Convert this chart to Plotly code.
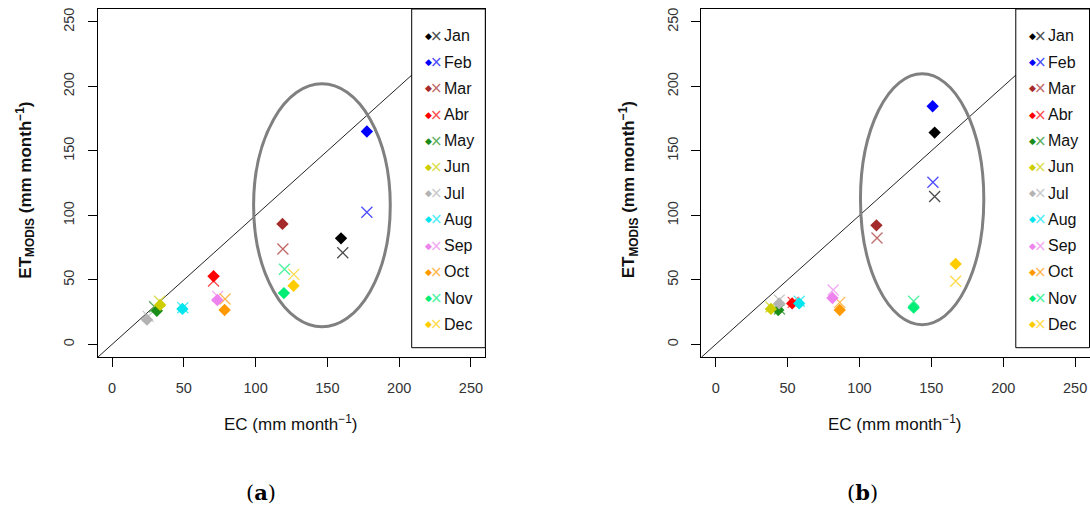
import plotly.graph_objects as go

# ---------------- data ----------------
months = ["Jan", "Feb", "Mar", "Abr", "May", "Jun", "Jul", "Aug", "Sep", "Oct", "Nov", "Dec"]
colors = ["#000000", "#0000FF", "#A52A2A", "#FF0000", "#1A8C1A", "#CDCD00",
          "#B3B3B3", "#00E5EE", "#EE82EE", "#FF9900", "#00EE76", "#FFCC00"]

# panel (a): diamonds
ec_a_d = [159.5, 177.5, 118.7, 70.7, 31.2, 33.5, 24.3, 49.0, 73.3, 78.4, 119.7, 126.4]
et_a_d = [82.2, 165.0, 93.4, 52.8, 26.1, 30.6, 19.2, 27.5, 34.4, 26.7, 39.8, 45.5]
# panel (a): crosses
ec_a_x = [160.7, 177.5, 119.0, 70.7, 29.6, 33.1, 25.2, 49.3, 73.6, 78.7, 120.1, 126.6]
et_a_x = [71.1, 102.4, 74.0, 49.1, 29.2, 33.4, 21.7, 28.4, 37.2, 35.2, 58.2, 54.3]

# panel (b): diamonds
ec_b_d = [152.3, 150.9, 111.8, 53.2, 43.5, 38.4, 44.2, 58.1, 81.2, 86.3, 137.7, 166.9]
et_b_d = [164.2, 184.6, 92.3, 31.8, 26.7, 27.5, 31.8, 31.8, 36.0, 26.7, 28.5, 62.4]
# panel (b): crosses
ec_b_x = [152.3, 151.1, 112.2, 53.9, 44.4, 38.4, 44.2, 58.1, 81.7, 86.3, 137.7, 166.9]
et_b_x = [114.6, 125.7, 82.5, 32.6, 27.5, 29.0, 34.4, 33.4, 42.2, 32.6, 33.4, 48.9]

# ellipses [x0, x1, y0, y1]
ellipse_a = [98.6, 193.8, 13.7, 202.0]
ellipse_b = [100.7, 186.5, 15.3, 209.8]

tick_vals = [0, 50, 100, 150, 200, 250]
axis_range = [-10, 260]
captions = ["a", "b"]

# ---------------- figure ----------------
W, H = 1090, 511
fig = go.Figure()

panels = [
    dict(xa="x", ya="y", d=(ec_a_d, et_a_d), c=(ec_a_x, et_a_x), ell=ellipse_a),
    dict(xa="x2", ya="y2", d=(ec_b_d, et_b_d), c=(ec_b_x, et_b_x), ell=ellipse_b),
]

def lighten(hexc, f=0.3):
    h = hexc.lstrip("#")
    r, g, b = int(h[0:2], 16), int(h[2:4], 16), int(h[4:6], 16)
    r = int(r + (255 - r) * f); g = int(g + (255 - g) * f); b = int(b + (255 - b) * f)
    return "#%02X%02X%02X" % (r, g, b)

x_colors = [lighten(c) for c in colors]

for p in panels:
    # 1:1 line
    fig.add_trace(go.Scatter(x=axis_range, y=axis_range, mode="lines",
                             line=dict(color="#222222", width=1),
                             xaxis=p["xa"], yaxis=p["ya"], showlegend=False, hoverinfo="skip"))
    # crosses
    fig.add_trace(go.Scatter(x=p["c"][0], y=p["c"][1], mode="markers",
                             marker=dict(symbol="x-thin-open", size=11, color=x_colors,
                                         line=dict(width=1.3)),
                             xaxis=p["xa"], yaxis=p["ya"], showlegend=False, cliponaxis=False))
    # diamonds
    fig.add_trace(go.Scatter(x=p["d"][0], y=p["d"][1], mode="markers",
                             marker=dict(symbol="diamond", size=9.5, color=colors,
                                         line=dict(width=0)),
                             xaxis=p["xa"], yaxis=p["ya"], showlegend=False))

# plot area in pixels
plot_l = [97.7, 701.3]
plot_r = [485.3, 1089.5]
plot_t, plot_b = 9.0, 357.3

axis_common = dict(range=axis_range, tickvals=tick_vals, ticks="outside", ticklen=9,
                   tickcolor="#000000", tickwidth=1, showline=True, linecolor="#000000",
                   linewidth=1, mirror=True, showgrid=False, zeroline=False,
                   tickfont=dict(family="Liberation Sans, Arial", size=14.5, color="#333333"),
                   ticklabelstandoff=8)

ydom = [1 - plot_b / H, 1 - plot_t / H]
fig.update_layout(
    xaxis=dict(domain=[plot_l[0] / W, plot_r[0] / W], anchor="y", **axis_common),
    yaxis=dict(domain=ydom, anchor="x", tickangle=-90, **axis_common),
    xaxis2=dict(domain=[plot_l[1] / W, plot_r[1] / W], anchor="y2", **axis_common),
    yaxis2=dict(domain=ydom, anchor="x2", tickangle=-90, **axis_common),
)

shapes = []
annotations = []
pw = plot_r[0] - plot_l[0]
ph = plot_b - plot_t
for i, p in enumerate(panels):
    xd = p["xa"] + " domain"
    yd = p["ya"] + " domain"
    e = p["ell"]
    shapes.append(dict(type="circle", xref=p["xa"], yref=p["ya"], x0=e[0], x1=e[1],
                       y0=e[2], y1=e[3], line=dict(color="#808080", width=3), layer="above"))
    # legend box
    shapes.append(dict(type="rect", xref=xd, yref=yd, x0=314.0 / pw, x1=1.0,
                       y0=(plot_b - 347.7) / ph, y1=1.0, fillcolor="white",
                       line=dict(color="#000000", width=1), layer="above"))
    for k, m in enumerate(months):
        py = 36.0 + 26.2 * k
        yy = (plot_b - py) / ph
        annotations.append(dict(xref=xd, yref=yd, x=330.6 / pw, y=yy, text="◆",
                                showarrow=False, xanchor="center", yanchor="middle",
                                font=dict(family="DejaVu Sans", size=9, color=colors[k])))
        annotations.append(dict(xref=xd, yref=yd, x=339.0 / pw, y=yy, text="×",
                                showarrow=False, xanchor="center", yanchor="middle",
                                font=dict(family="DejaVu Sans", size=15, color=x_colors[k])))
        annotations.append(dict(xref=xd, yref=yd, x=344.5 / pw, y=yy, text=m,
                                showarrow=False, xanchor="left", yanchor="middle",
                                font=dict(family="Liberation Sans, Arial", size=16, color="#111111")))
    # axis titles
    cx = (plot_l[i] + plot_r[i]) / 2
    annotations.append(dict(xref="paper", yref="paper", x=cx / W, y=1 - 423 / H,
                            text="EC (mm month<sup>−1</sup>)", showarrow=False,
                            xanchor="center", yanchor="middle",
                            font=dict(family="Liberation Sans, Arial", size=17, color="#111111")))
    annotations.append(dict(xref="paper", yref="paper", x=(plot_l[i] - 73) / W, y=1 - 190 / H,
                            text="<b>ET<sub>MODIS</sub> (mm month<sup>−1</sup>)</b>",
                            textangle=-90, showarrow=False, xanchor="center", yanchor="middle",
                            font=dict(family="Liberation Sans, Arial", size=17, color="#111111")))
    # caption
    annotations.append(dict(xref="paper", yref="paper", x=[261, 862][i] / W, y=1 - 492 / H,
                            text="(<b>%s</b>)" % captions[i], showarrow=False,
                            xanchor="center", yanchor="middle",
                            font=dict(family="DejaVu Serif, Liberation Serif", size=21, color="#000000")))

fig.update_layout(width=W, height=H, margin=dict(l=0, r=0, t=0, b=0),
                  paper_bgcolor="white", plot_bgcolor="white",
                  shapes=shapes, annotations=annotations, showlegend=False)

fig.write_html("out.html")
